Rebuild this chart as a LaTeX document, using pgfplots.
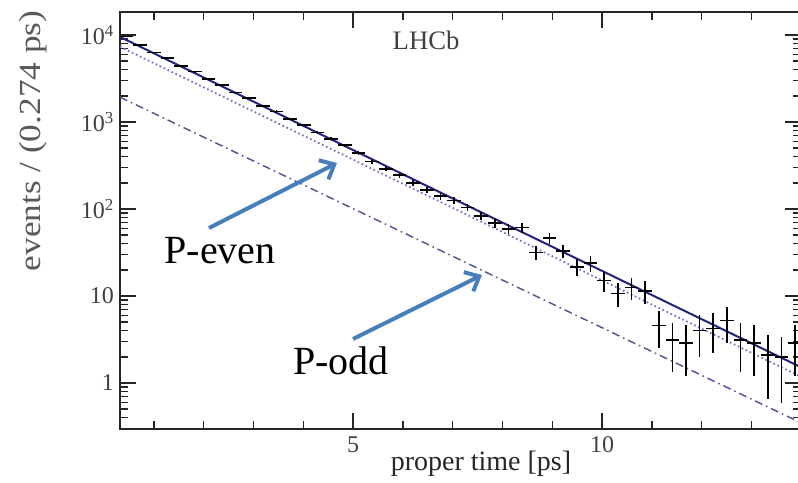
\documentclass[border=0pt]{standalone}
\usepackage{fontspec}
\setmainfont{Liberation Serif}
\usepackage{pgfplots}
\usepackage{pgfplotstable}
\pgfplotsset{compat=1.18}
\usetikzlibrary{arrows.meta}
\definecolor{fitblue}{RGB}{35,35,125}
\definecolor{evenblue}{RGB}{115,115,200}
\definecolor{oddblue}{RGB}{85,85,150}
\definecolor{arrowblue}{RGB}{74,126,187}
\pgfplotstableread{
x y ex ey
0.450 9600 0.137 98
0.724 7700 0.137 88
0.998 6300 0.137 79
1.272 5400 0.137 73
1.546 4400 0.137 66
1.820 3800 0.137 62
2.094 3100 0.137 56
2.368 2680 0.137 52
2.642 2180 0.137 47
2.916 1880 0.137 43
3.190 1530 0.137 39
3.464 1320 0.137 36
3.738 1080 0.137 33
4.012 930 0.137 30
4.286 760 0.137 28
4.560 640 0.137 25
4.834 540 0.137 23
5.108 440 0.137 21
5.382 350 0.137 19
5.656 290 0.137 17
5.930 245 0.137 16
6.204 200 0.137 14
6.478 165 0.137 13
6.752 140 0.137 12
7.026 125 0.137 11
7.300 104 0.137 10
7.574 83 0.137 9.1
7.848 69 0.137 8.3
8.122 59 0.137 7.7
8.396 61 0.137 7.8
8.670 31.5 0.137 5.6
8.944 46.6 0.137 6.8
9.218 33 0.137 5.7
9.492 21.7 0.137 4.7
9.766 24 0.137 4.9
10.040 15 0.137 3.9
10.314 10.7 0.137 3.3
10.588 12.5 0.137 3.5
10.862 11.5 0.137 3.4
11.136 4.6 0.137 2.1
11.410 3.1 0.137 1.76
11.684 2.9 0.137 1.7
11.958 4.0 0.137 2.0
12.232 4.25 0.137 2.06
12.506 5.2 0.137 2.3
12.780 3.1 0.137 1.76
13.054 2.9 0.137 1.7
13.328 2.1 0.137 1.45
13.602 2.0 0.137 1.41
13.876 2.9 0.137 1.7
}\datatable
\begin{document}
\begin{tikzpicture}
\begin{axis}[
  scale only axis, width=511pt, height=312.75pt,
  xmin=0.32, xmax=14, ymode=log, ymin=0.296, ymax=18360,
  axis line style={line width=1.1pt, draw=black!85},
  xtick={5,10}, xticklabels={5,10}, minor xtick={1,2,3,4,6,7,8,9,11,12,13},
  ytick={1,10,100,1000,10000},
  yticklabels={1,10,10\textsuperscript{2},10\textsuperscript{3},10\textsuperscript{4}},
  minor ytick={0.3,0.4,0.5,0.6,0.7,0.8,0.9,2,3,4,5,6,7,8,9,20,30,40,50,60,70,80,90,200,300,400,500,600,700,800,900,2000,3000,4000,5000,6000,7000,8000,9000},
  tick align=inside, major tick length=12pt, minor tick length=6pt,
  every tick/.style={black!85, line width=1.1pt},
  tick label style={font=\fontsize{18}{20}\selectfont, text=black!75},
  xticklabel style={yshift=-2pt},
  yticklabel style={xshift=-1pt},
  clip=true,
]
\addplot[oddblue, line width=1.1pt, dash pattern=on 6pt off 3pt on 1.2pt off 3pt] coordinates {(0.32,1928) (3.5,260) (7,28.6) (10.5,3.15) (14,0.347)};
\addplot[evenblue, line width=1.3pt, dotted] coordinates {(0.32,7310) (3.5,960) (7,103) (10.5,10.96) (14,1.175)};
\addplot[fitblue, line width=1.5pt] coordinates {(0.32,9500) (3.5,1245) (7,132) (10.5,14.1) (14,1.51)};
\addplot[draw=none, mark=none,
  error bars/.cd, x dir=both, x explicit, y dir=both, y explicit,
  error bar style={line width=1.2pt, draw=black, solid}, error mark=none]
  table[x=x, y=y, x error=ex, y error=ey] {\datatable};
\end{axis}
\node[anchor=base west, font=\fontsize{20}{22}\selectfont, text=black!75] at (201pt,284.25pt) {LHCb};
\node[rotate=90, xscale=1.15, font=\fontsize{23}{26}\selectfont, text=black!65] at (-64.9pt,216pt) {events / (0.274 ps)};
\node[anchor=base, font=\fontsize{21}{24}\selectfont, text=black!85] at (270.75pt,-30.75pt) {proper time [ps]};
\node[anchor=base, font=\fontsize{30}{34}\selectfont] at (75pt,124.5pt) {P-even};
\node[anchor=base, font=\fontsize{30}{34}\selectfont] at (165.75pt,41.25pt) {P-odd};
\draw[arrowblue, line width=3pt, -{Straight Barb[length=9pt, width=16pt, line width=3pt]}] (66.75pt,150.75pt) -- (162.75pt,199.5pt);
\draw[arrowblue, line width=3pt, -{Straight Barb[length=9pt, width=16pt, line width=3pt]}] (174.75pt,67.5pt) -- (271.5pt,115.5pt);
\pgfresetboundingbox
\useasboundingbox (-90pt,-39.75pt) rectangle (508.5pt,321.75pt);
\end{tikzpicture}
\end{document}
